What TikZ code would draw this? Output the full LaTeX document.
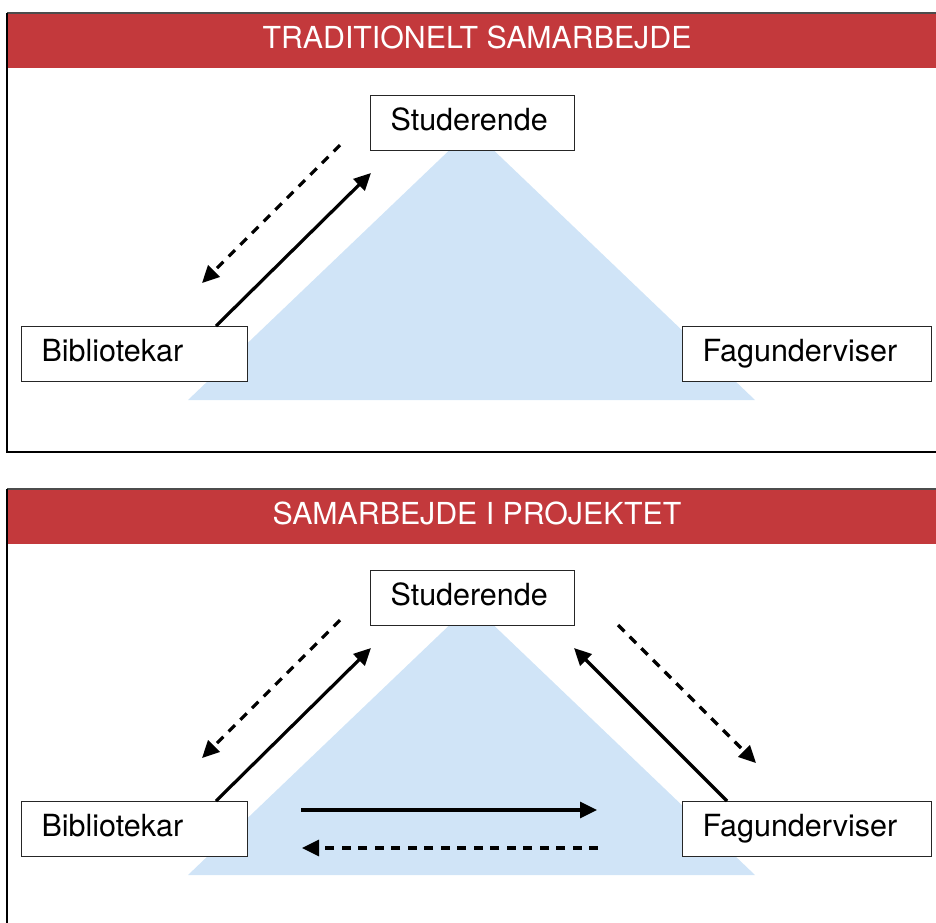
\documentclass[tikz,border=0pt]{standalone}
\usepackage{fontspec}
\setmainfont{TeX Gyre Heros}
\usetikzlibrary{arrows.meta,calc}
\definecolor{hdr}{RGB}{195,57,60}
\definecolor{tri}{RGB}{208,228,247}
\tikzset{
  box/.style={draw=black!85, line width=1.1pt, fill=white, anchor=north west,
    inner xsep=20pt, inner ysep=0pt, minimum height=55pt, align=left,
    text height=21.5pt, text depth=7pt, font=\fontsize{30.5}{36}\selectfont},
  title/.style={text=white, anchor=base, font=\fontsize{30.3}{36}\selectfont},
  solidarrow/.style={line width=3.2pt, -{Triangle[length=17pt,width=16pt]}},
  dasharrow/.style={line width=3.2pt, dash pattern=on 9pt off 7.5pt, -{Triangle[length=17pt,width=16pt]}},
  panelline/.style={line width=1.8pt, black},
}
\begin{document}
\begin{tikzpicture}[x=1pt,y=-1pt]
\useasboundingbox (0,0) rectangle (936,922);

% ---------- Panel 1 ----------
\fill[hdr] (7,13) rectangle (940,68);
\draw[gray!60!black, line width=1.5pt] (7,13) -- (940,13);
\draw[panelline] (940,452) -- (7,452) -- (7,13);
\node[title] (t1) at (477,48.5) {TRADITIONELT SAMARBEJDE};
\fill[tri] (188,400) -- (471.5,129) -- (755,400) -- cycle;
\node[box, text width=164pt] (stu1) at (370,95) {Studerende};
\node[box, text width=186pt] (bib1) at (21,326) {Bibliotekar};
\node[box, text width=209pt] (fag1) at (682,326) {Fagunderviser};
\coordinate (d1s) at (340,145);
\coordinate (d1e) at (202,283);
\coordinate (s1e) at (371,173);
\draw[dasharrow] (d1s) -- (d1e);
\draw[solidarrow] ($(bib1.north west)+(195,0)$) -- (s1e);

% ---------- Panel 2 ----------
\begin{scope}[shift={(0,475)}]
\fill[hdr] (7,14) rectangle (940,69);
\draw[gray!60!black, line width=1.5pt] (7,14) -- (940,14);
\draw[panelline] (7,14) -- (7,460);
\node[title] (t2) at (477,49.5) {SAMARBEJDE I PROJEKTET};
\fill[tri] (188,400) -- (471.5,129) -- (755,400) -- cycle;
\node[box, text width=164pt] (stu2) at (370,95) {Studerende};
\node[box, text width=186pt] (bib2) at (21,326) {Bibliotekar};
\node[box, text width=209pt] (fag2) at (682,326) {Fagunderviser};
\coordinate (d2s) at (340,145);
\coordinate (d2e) at (202,283);
\coordinate (s2e) at (371,173);
\draw[dasharrow] (d2s) -- (d2e);
\draw[solidarrow] ($(bib2.north west)+(195,0)$) -- (s2e);
\coordinate (d3s) at (618,150);
\coordinate (d3e) at (756,288);
\coordinate (s3e) at (574,173);
\draw[dasharrow] (d3s) -- (d3e);
\draw[solidarrow] ($(fag2.north west)+(45,0)$) -- (s3e);
\coordinate (h1s) at (301,335);
\coordinate (h1e) at (597,335);
\coordinate (h2s) at (598,373);
\coordinate (h2e) at (302,373);
\draw[solidarrow] (h1s) -- (h1e);
\draw[dasharrow] (h2s) -- (h2e);
\end{scope}
\end{tikzpicture}
\end{document}
